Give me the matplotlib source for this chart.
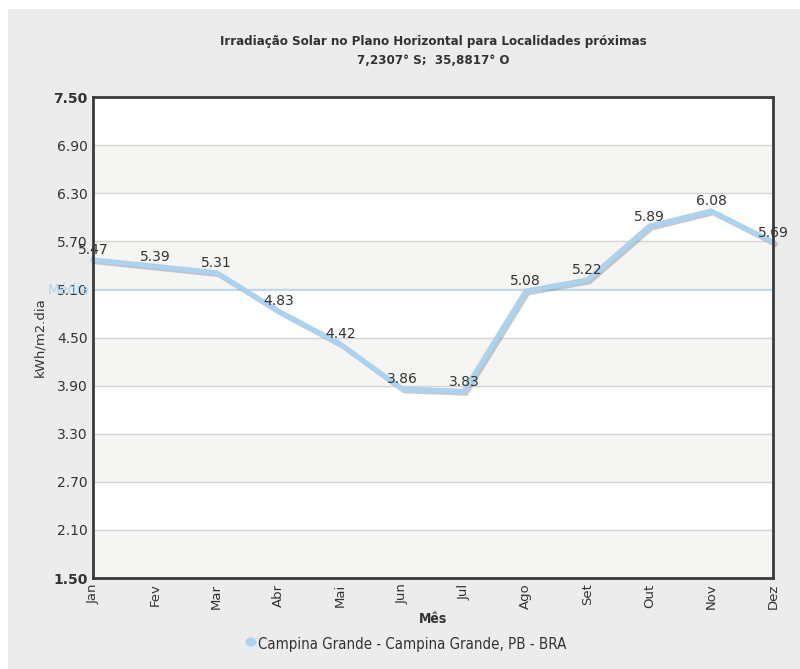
import numpy as np
import matplotlib.pyplot as plt
import matplotlib.patheffects as pe
from matplotlib.patches import Rectangle

# irradiação média mensal (kWh/m2.dia)
meses = ["Jan", "Fev", "Mar", "Abr", "Mai", "Jun", "Jul", "Ago", "Set", "Out", "Nov", "Dez"]
irradiacao = [5.47, 5.39, 5.31, 4.83, 4.42, 3.86, 3.83, 5.08, 5.22, 5.89, 6.08, 5.69]
y_ticks = [1.50, 2.10, 2.70, 3.30, 3.90, 4.50, 5.10, 5.70, 6.30, 6.90, 7.50]

titulo = "Irradiação Solar no Plano Horizontal para Localidades próximas"
subtitulo = "7,2307° S;  35,8817° O"
serie = "Campina Grande - Campina Grande, PB - BRA"

W, H = 800, 669
AZUL = "#a9d3f2"
TXT = "#333333"
COND = dict(family="DejaVu Sans", fontstretch="condensed")

fig = plt.figure(figsize=(W / 100, H / 100), dpi=100, facecolor="white")
fig.patches.append(Rectangle((8 / W, 0), 1, 1 - 9 / H, transform=fig.transFigure,
                             facecolor="#ececec", edgecolor="none", zorder=-10))

x0, x1, y0, y1 = 93, 773, 97, 578
ax = fig.add_axes([x0 / W, 1 - y1 / H, (x1 - x0) / W, (y1 - y0) / H])
ax.set_facecolor("white")

x = np.arange(len(meses))
ax.set_xlim(0, len(meses) - 1)
ax.set_ylim(y_ticks[0], y_ticks[-1])

# faixas alternadas
for i in range(len(y_ticks) - 1):
    if (len(y_ticks) - 2 - i) % 2 == 1:
        ax.axhspan(y_ticks[i], y_ticks[i + 1], color="#f5f5f3", zorder=0)
for v in y_ticks[1:-1]:
    ax.axhline(v, color="#d4d4d4", lw=1, zorder=1)

# linha da média
media = float(np.mean(irradiacao))
ax.axhline(media, color="#b5daf2", lw=1.3, zorder=2)
ax.text(-0.005, media, "Média", transform=ax.get_yaxis_transform(), ha="right", va="center",
        color="#a9d3f2", fontsize=10, zorder=5, clip_on=False)

ax.plot(x, irradiacao, color=AZUL, lw=3.5, solid_joinstyle="miter", zorder=4, clip_on=False,
        path_effects=[pe.SimpleLineShadow(offset=(1.5, -1.5), shadow_color="#888888", alpha=0.45),
                      pe.Normal()])

for xi, v in zip(x, irradiacao):
    ax.annotate(f"{v:.2f}", (xi, v), xytext=(0, 4), textcoords="offset points",
                ha="center", va="baseline", fontsize=10, color=TXT, zorder=6,
                annotation_clip=False)

ax.set_yticks(y_ticks)
ax.set_yticklabels([f"{v:.2f}" for v in y_ticks], fontsize=10, color=TXT)
for lab in (ax.get_yticklabels()[0], ax.get_yticklabels()[-1]):
    lab.set_fontweight("bold")
ax.set_xticks(x)
ax.set_xticklabels(meses, rotation=90, fontsize=9.5, color=TXT, va="top")
ax.tick_params(length=0, pad=4)

for s in ax.spines.values():
    s.set_color("#3a3a3a")
    s.set_linewidth(2)
    s.set_zorder(7)

ax.set_ylabel("kWh/m2.dia", fontsize=9.5, color=TXT, labelpad=5)
ax.set_xlabel("Mês", fontsize=10, fontweight="bold", color=TXT, labelpad=2, **COND)

# título centrado sobre a área do gráfico
xc = (x0 + x1) / 2 / W
fig.text(xc, 1 - 41 / H, titulo, ha="center", va="center", fontsize=9.5,
         fontweight="bold", color=TXT, **COND)
fig.text(xc, 1 - 61 / H, subtitulo, ha="center", va="center", fontsize=9.5,
         fontweight="bold", color=TXT, **COND)

# legenda
fig.text(258 / W, 1 - 645 / H, serie, ha="left", va="center", fontsize=10.8,
         color=TXT, **COND)
fig.patches.append(plt.Circle((251 / W, 1 - 642 / H), 5.5 / W, transform=fig.transFigure,
                              facecolor=AZUL, edgecolor="none"))

fig.savefig("out.png", dpi=100, facecolor=fig.get_facecolor())
